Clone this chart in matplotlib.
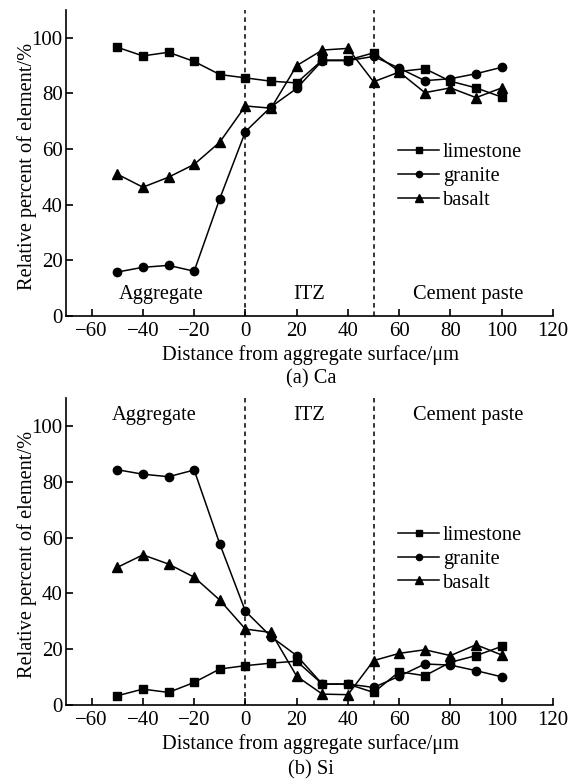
import matplotlib
matplotlib.use("Agg")
import matplotlib.pyplot as plt

plt.rcParams['font.family'] = ['Liberation Serif', 'DejaVu Serif']
plt.rcParams['mathtext.fontset'] = 'stix'

distance = [-50, -40, -30, -20, -10, 0, 10, 20, 30, 40, 50, 60, 70, 80, 90, 100]

ca_limestone = [96.6, 93.5, 94.8, 91.5, 86.8, 85.6, 84.4, 83.8, 92.0, 92.0, 94.6, 87.9, 88.9, 84.4, 82.0, 78.7]
ca_granite = [15.8, 17.5, 18.2, 16.1, 42.2, 66.3, 75.2, 81.8, 91.8, 91.8, 93.3, 89.1, 84.6, 85.3, 87.1, 89.4]
ca_basalt = [51.0, 46.3, 49.9, 54.5, 62.5, 75.5, 74.7, 90.0, 95.6, 96.2, 84.2, 87.7, 80.3, 82.0, 78.5, 82.0]

si_limestone = [3.3, 5.7, 4.5, 8.1, 12.9, 14.1, 15.0, 15.7, 7.5, 7.5, 4.5, 11.9, 10.5, 15.3, 17.7, 21.0]
si_granite = [84.3, 82.7, 81.8, 84.2, 57.7, 33.6, 24.5, 17.7, 7.5, 7.5, 6.3, 10.3, 14.7, 14.3, 12.3, 10.1]
si_basalt = [49.3, 53.8, 50.5, 45.8, 37.6, 27.2, 26.0, 10.3, 3.9, 3.7, 15.9, 18.5, 19.8, 17.7, 21.6, 17.9]

series_names = ['limestone', 'granite', 'basalt']
markers = ['s', 'o', '^']
marker_sizes = [5.5, 6, 7]
region_labels = ['Aggregate', 'ITZ', 'Cement paste']
boundaries = [0, 50]
xticks = [-60, -40, -20, 0, 20, 40, 60, 80, 100, 120]
yticks = [0, 20, 40, 60, 80, 100]

W, H = 581, 782
fig = plt.figure(figsize=(W / 100, H / 100), dpi=100)

FS = 14.7
TFS = 15


def make_axes(top_px, bottom_px):
    left_px, right_px = 66, 553
    return fig.add_axes([left_px / W, 1 - bottom_px / H,
                         (right_px - left_px) / W, (bottom_px - top_px) / H])


def draw(ax, data, region_pos, legend_anchor):
    for vals, name, m, ms in zip(data, series_names, markers, marker_sizes):
        ax.plot(distance, vals, color='black', lw=1.1, marker=m, ms=ms,
                label=name, clip_on=False)
    for b in boundaries:
        ax.axvline(b, color='black', lw=1.1, ls=(0, (3, 2.5)))
    ax.set_xlim(-70, 120)
    ax.set_ylim(0, 110)
    ax.set_xticks(xticks)
    ax.set_yticks(yticks)
    ax.set_xticklabels([str(t).replace('-', '\u2212') for t in xticks])
    ax.tick_params(direction='in', length=5, width=1.2, labelsize=TFS)
    ax.tick_params(axis='x', pad=4.5)
    ax.tick_params(axis='y', pad=2.5)
    for s in ['top', 'right']:
        ax.spines[s].set_visible(False)
    for s in ['left', 'bottom']:
        ax.spines[s].set_linewidth(1.2)
    ax.set_xlabel('Distance from aggregate surface/\u03bcm', fontsize=FS)
    ax.set_ylabel('Relative percent of element/%', fontsize=FS)
    ax.xaxis.set_label_coords(0.502, -0.127)
    ax.yaxis.set_label_coords(-0.080, 0.49)
    ax.xaxis.label.set_va('center')
    ax.yaxis.label.set_va('center')
    for lbl, (x, y) in zip(region_labels, region_pos):
        ax.text(x, y, lbl, fontsize=FS, ha='center', va='center')
    leg = ax.legend(loc='center left', bbox_to_anchor=legend_anchor, frameon=False,
                    fontsize=FS, handlelength=2.0, handletextpad=0.2,
                    labelspacing=0.22, borderaxespad=0, borderpad=0,
                    markerscale=0.75)
    return leg


ax1 = make_axes(10, 316)
draw(ax1, [ca_limestone, ca_granite, ca_basalt],
     [(-33, 7.6), (25, 7.6), (87, 7.6)], (0.682, 0.456))

ax2 = make_axes(398, 705)
draw(ax2, [si_limestone, si_granite, si_basalt],
     [(-35.5, 103.6), (25, 103.6), (87, 103.6)], (0.682, 0.475))

fig.text(311 / W, 1 - 379 / H, '(a) Ca', fontsize=FS, ha='center', va='center')
fig.text(311 / W, 1 - 770 / H, '(b) Si', fontsize=FS, ha='center', va='center')

fig.savefig('out.png', dpi=100)
